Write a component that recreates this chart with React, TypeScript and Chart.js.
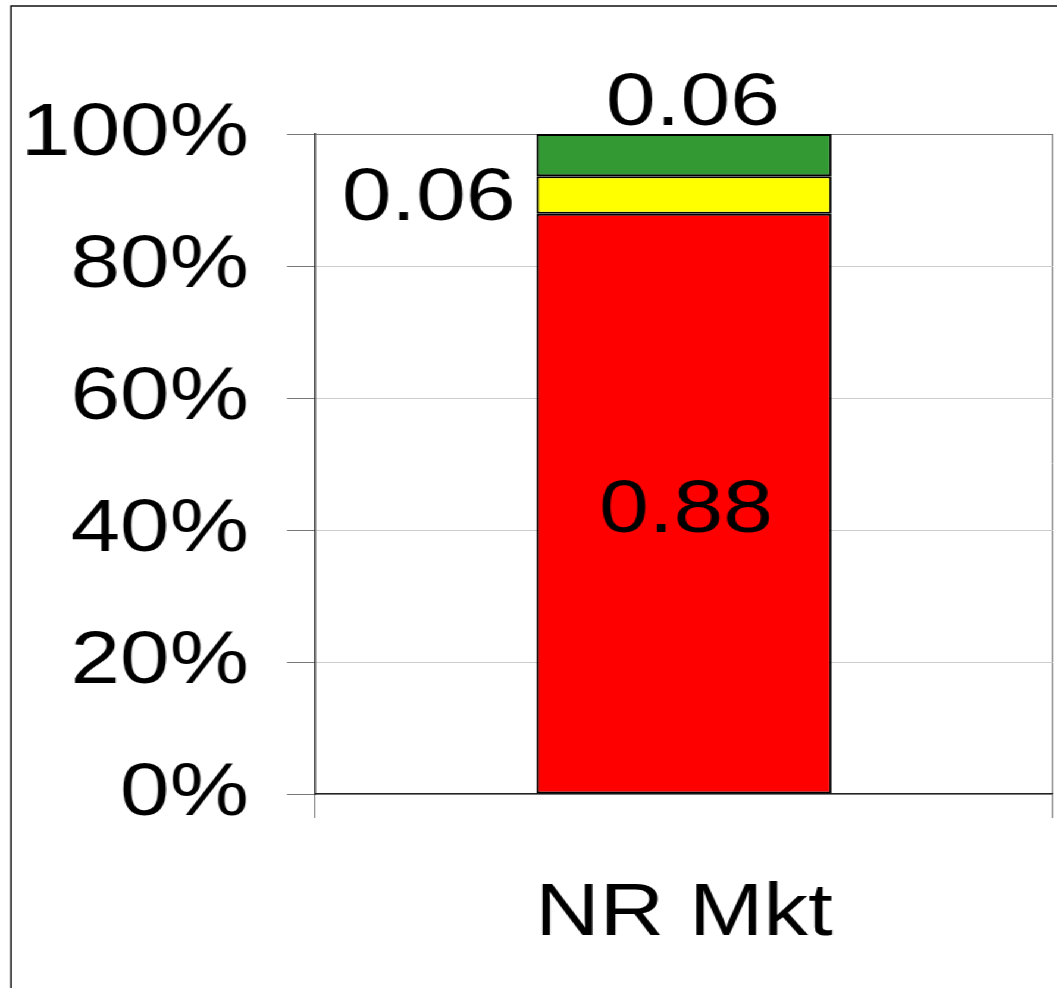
import React, { useEffect, useRef } from "react";
import { Chart, registerables } from "chart.js";

Chart.register(...registerables);

// ---- data ----
const categories = ["NR Mkt"];
const redValues = [0.879];
const yellowValues = [0.057];
const greenValues = [0.064];
const yTickValues = [0, 0.2, 0.4, 0.6, 0.8, 1];

// horizontal stretch of the reference picture
const S = 1.19;
const W = Math.round(1057 / S);
const H = 988;
const hx = (v: number) => v / S;

const FONT = '"Liberation Sans", Arial, Helvetica, sans-serif';
const FS = 75;

const framePlugin = {
  id: "frame",
  beforeDraw(chart: any) {
    const ctx = chart.ctx;
    ctx.save();
    ctx.strokeStyle = "#111";
    ctx.lineWidth = 1.5;
    ctx.strokeRect(hx(11), 6, W + 20, H + 20);
    ctx.restore();
  },
};

const valueLabelPlugin = {
  id: "valueLabels",
  afterDatasetsDraw(chart: any) {
    const ctx = chart.ctx;
    ctx.save();
    ctx.fillStyle = "#000";
    ctx.font = `${FS}px ${FONT}`;
    ctx.textBaseline = "alphabetic";
    chart.data.datasets.forEach((ds: any, di: number) => {
      const meta = chart.getDatasetMeta(di);
      meta.data.forEach((bar: any, i: number) => {
        const v = ds.data[i];
        const txt = v.toFixed(2);
        const top = Math.min(bar.y, bar.base);
        const bottom = Math.max(bar.y, bar.base);
        const mid = (top + bottom) / 2;
        const left = bar.x - bar.width / 2;
        if (di === 0) {
          ctx.textAlign = "center";
          ctx.fillText(txt, bar.x + hx(2), mid + FS * 0.36 + 1);
        } else if (di === 1) {
          ctx.textAlign = "right";
          ctx.fillText(txt, left - hx(21), mid + 25);
        } else {
          ctx.textAlign = "center";
          ctx.fillText(txt, bar.x + hx(9), top - 9.5);
        }
      });
    });
    ctx.restore();
  },
};

export default function App() {
  const ref = useRef<HTMLCanvasElement | null>(null);

  useEffect(() => {
    if (!ref.current) return;
    const common = {
      borderColor: "#000",
      borderWidth: 2,
      borderSkipped: false,
      barPercentage: 0.4,
      categoryPercentage: 1,
    };
    const chart = new Chart(ref.current, {
      type: "bar",
      data: {
        labels: categories,
        datasets: [
          { label: "Red", data: redValues, backgroundColor: "#ff0000", ...common },
          { label: "Yellow", data: yellowValues, backgroundColor: "#ffff00", ...common },
          { label: "Green", data: greenValues, backgroundColor: "#339933", ...common },
        ],
      },
      options: {
        responsive: false,
        devicePixelRatio: 1,
        animation: false,
        layout: { padding: { top: 134, right: W - hx(1053), bottom: 0, left: 0 } },
        plugins: {
          legend: { display: false },
          tooltip: { enabled: false },
        },
        scales: {
          x: {
            stacked: true,
            offset: true,
            grid: {
              offset: true,
              color: "#777",
              tickColor: "#777",
              tickLength: 24,
              lineWidth: 1,
            },
            border: { display: true, color: "#222", width: 1.6 },
            ticks: {
              color: "#000",
              font: { family: FONT, size: FS },
              padding: 51,
              maxRotation: 0,
            },
            afterFit: (s: any) => {
              s.height = H - 794;
            },
          },
          y: {
            stacked: true,
            min: 0,
            max: 1,
            afterBuildTicks: (s: any) => {
              s.ticks = yTickValues.map((v) => ({ value: v }));
            },
            grid: {
              color: (c: any) => (c.tick && c.tick.value === 1 ? "#777" : "#cccccc"),
              tickColor: "#777",
              tickLength: hx(28),
              lineWidth: 1,
            },
            border: { display: true, color: "#222", width: 1.4 },
            ticks: {
              color: "#000",
              font: { family: FONT, size: FS },
              padding: hx(38),
              callback: (v: any) => Math.round(Number(v) * 100) + "%",
            },
            afterFit: (s: any) => {
              s.width = hx(315);
            },
          },
        },
      },
      plugins: [framePlugin, valueLabelPlugin],
    });
    return () => chart.destroy();
  }, []);

  return (
    <div
      style={{
        position: "fixed",
        left: 0,
        top: 0,
        width: W + "px",
        height: H + "px",
        transform: `scaleX(${S})`,
        transformOrigin: "0 0",
        background: "#fff",
      }}
    >
      <canvas ref={ref} width={W} height={H} style={{ display: "block", width: W + "px", height: H + "px" }} />
    </div>
  );
}
